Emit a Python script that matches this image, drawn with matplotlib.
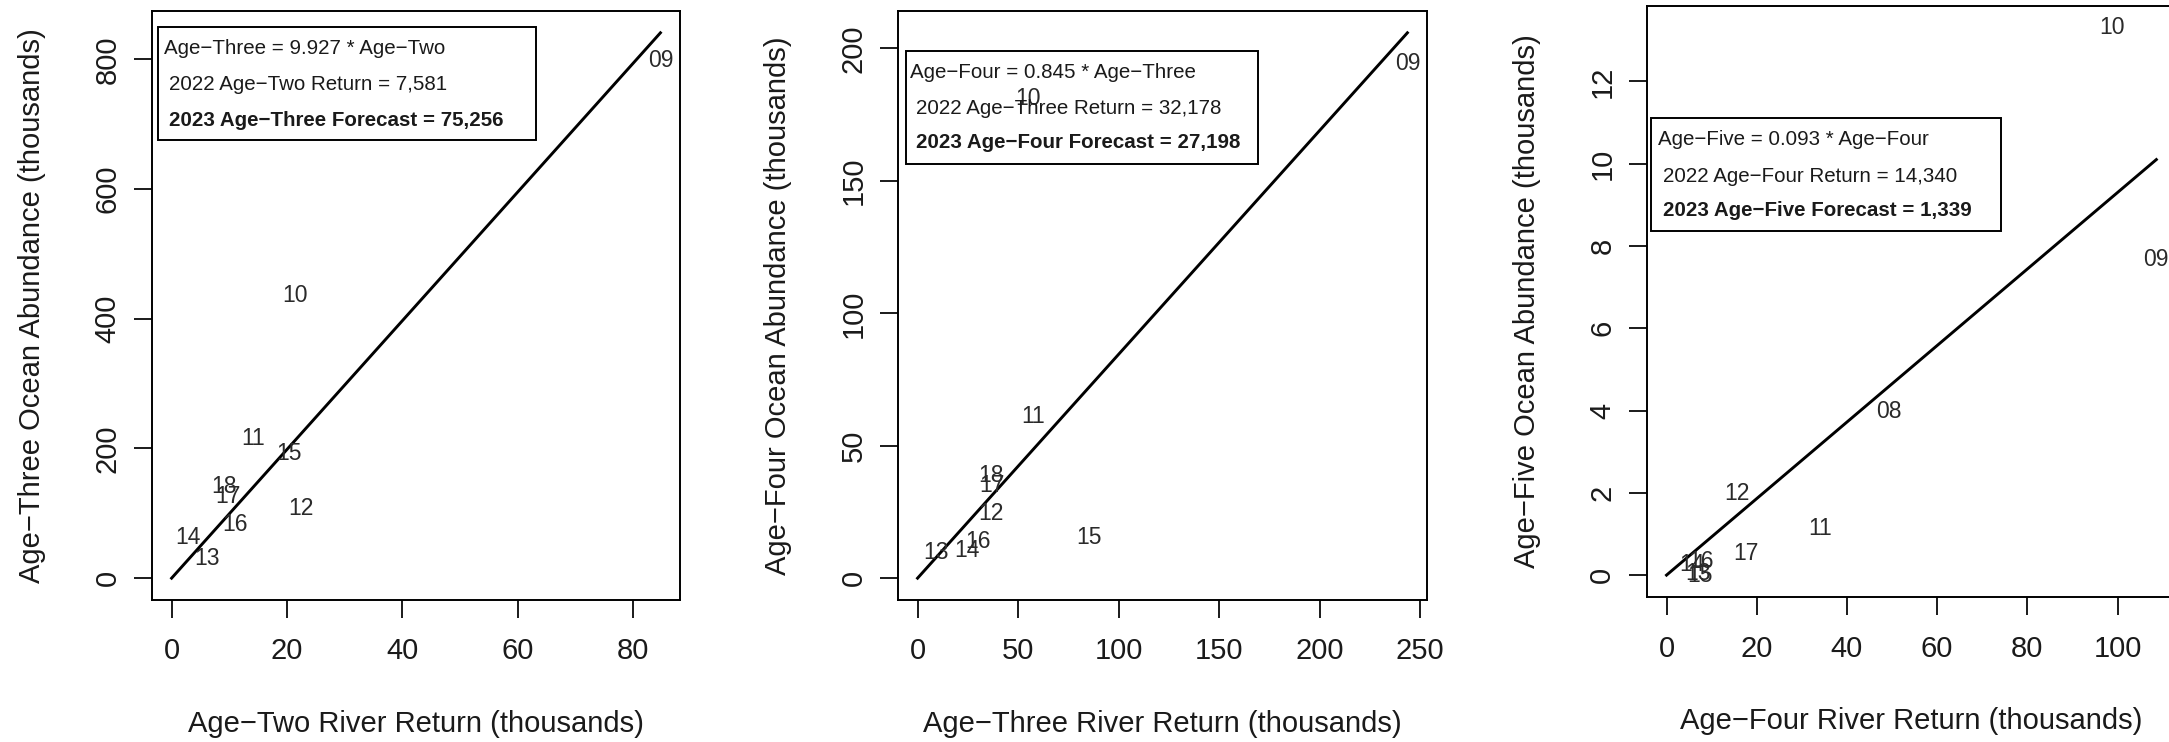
import matplotlib
matplotlib.use("Agg")
import matplotlib.pyplot as plt
from matplotlib.patches import Rectangle

plt.rcParams['font.family'] = ['Liberation Sans', 'DejaVu Sans']

# Age-two river return vs age-three ocean abundance (thousands)
years_a = ['09', '10', '11', '12', '13', '14', '15', '16', '17', '18']
river_two = [84.7, 21.4, 14.2, 22.4, 6.2, 2.8, 20.4, 11.0, 9.8, 9.1]
ocean_three = [798, 436, 216, 108, 30, 63, 192, 83, 126, 141]
slope_a = 9.927
box_a = ['Age\u2212Three = 9.927 * Age\u2212Two',
         '2022 Age\u2212Two Return = 7,581',
         '2023 Age\u2212Three Forecast = 75,256']

# Age-three river return vs age-four ocean abundance (thousands)
years_b = ['09', '10', '11', '12', '13', '14', '15', '16', '17', '18']
river_three = [243.7, 54.8, 57.7, 36.4, 9.1, 24.5, 85.3, 30.2, 37.1, 36.4]
ocean_four = [194.4, 181.1, 60.9, 24.3, 9.7, 10.4, 15.4, 14.0, 35.1, 38.6]
slope_b = 0.845
box_b = ['Age\u2212Four = 0.845 * Age\u2212Three',
         '2022 Age\u2212Three Return = 32,178',
         '2023 Age\u2212Four Forecast = 27,198']

# Age-four river return vs age-five ocean abundance (thousands)
years_c = ['08', '09', '10', '11', '12', '13', '14', '15', '16', '17']
river_four = [49.3, 108.6, 98.8, 34.1, 15.6, 7.0, 5.6, 7.4, 7.6, 17.7]
ocean_five = [3.97, 7.66, 13.3, 1.13, 1.99, 0.05, 0.26, 0.0, 0.34, 0.53]
slope_c = 0.093
box_c = ['Age\u2212Five = 0.093 * Age\u2212Four',
         '2022 Age\u2212Four Return = 14,340',
         '2023 Age\u2212Five Forecast = 1,339']

fig = plt.figure(figsize=(21.69, 7.42), dpi=100)

panels = [
    dict(pos=[0.0701, 0.1914, 0.2434, 0.7938], x=river_two, y=ocean_three, yrs=years_a,
         slope=slope_a, lines=box_a, xticks=range(0, 81, 20), yticks=range(0, 801, 200),
         xlabel='Age\u2212Two River Return (thousands)',
         ylabel='Age\u2212Three Ocean Abundance (thousands)',
         box=(0.0104, 0.781, 0.727, 0.972), tx=(0.0227, 0.032), ty=(0.936, 0.876, 0.814)),
    dict(pos=[0.4140, 0.1914, 0.2439, 0.7938], x=river_three, y=ocean_four, yrs=years_b,
         slope=slope_b, lines=box_b, xticks=range(0, 251, 50), yticks=range(0, 201, 50),
         xlabel='Age\u2212Three River Return (thousands)',
         ylabel='Age\u2212Four Ocean Abundance (thousands)',
         box=(0.0151, 0.740, 0.6805, 0.932), tx=(0.0236, 0.035), ty=(0.896, 0.834, 0.776)),
    dict(pos=[0.7593, 0.1954, 0.2439, 0.7965], x=river_four, y=ocean_five, yrs=years_c,
         slope=slope_c, lines=box_c, xticks=range(0, 101, 20), yticks=range(0, 13, 2),
         xlabel='Age\u2212Four River Return (thousands)',
         ylabel='Age\u2212Five Ocean Abundance (thousands)',
         box=(0.0085, 0.620, 0.669, 0.8105), tx=(0.020, 0.030), ty=(0.774, 0.712, 0.654)),
]

for p in panels:
    ax = fig.add_axes(p['pos'])
    xmax = max(p['x'])
    ymax = max(max(p['y']), p['slope'] * xmax)
    ax.set_xlim(-0.04 * xmax, 1.04 * xmax)
    ax.set_ylim(-0.04 * ymax, 1.04 * ymax)

    # year labels at each point
    for xv, yv, yr in zip(p['x'], p['y'], p['yrs']):
        ax.text(xv, yv, yr, ha='center', va='center', fontsize=16.5, color='#2a2a2a')

    # regression through the origin
    ax.plot([0, xmax], [0, p['slope'] * xmax], color='black', lw=2.1)

    ax.set_xticks(list(p['xticks']))
    ax.set_yticks(list(p['yticks']))
    ax.tick_params(axis='both', direction='out', length=13, width=1.4, labelsize=21,
                   colors='#1a1a1a')
    ax.tick_params(axis='x', pad=14)
    ax.tick_params(axis='y', pad=9, labelrotation=90)
    for lbl in ax.get_yticklabels():
        lbl.set_va('center')
    for s in ax.spines.values():
        s.set_linewidth(1.4)

    ax.set_xlabel(p['xlabel'], fontsize=21, color='#1a1a1a')
    ax.set_ylabel(p['ylabel'], fontsize=21, color='#1a1a1a')
    ax.xaxis.set_label_coords(0.5, -0.2105)
    ax.xaxis.label.set_va('center')
    ax.yaxis.set_label_coords(-0.227, 0.5)
    ax.yaxis.label.set_va('center')

    # equation and forecast box
    x0, y0, x1, y1 = p['box']
    ax.add_patch(Rectangle((x0, y0), x1 - x0, y1 - y0, transform=ax.transAxes,
                           fill=False, lw=1.4, ec='black'))
    ax.text(p['tx'][0], p['ty'][0], p['lines'][0], transform=ax.transAxes,
            ha='left', va='center', fontsize=14.8, color='#1a1a1a')
    ax.text(p['tx'][1], p['ty'][1], p['lines'][1], transform=ax.transAxes,
            ha='left', va='center', fontsize=14.8, color='#1a1a1a')
    ax.text(p['tx'][1], p['ty'][2], p['lines'][2], transform=ax.transAxes,
            ha='left', va='center', fontsize=14.8, fontweight='bold', color='#1a1a1a')

fig.savefig('out.png', dpi=100)
